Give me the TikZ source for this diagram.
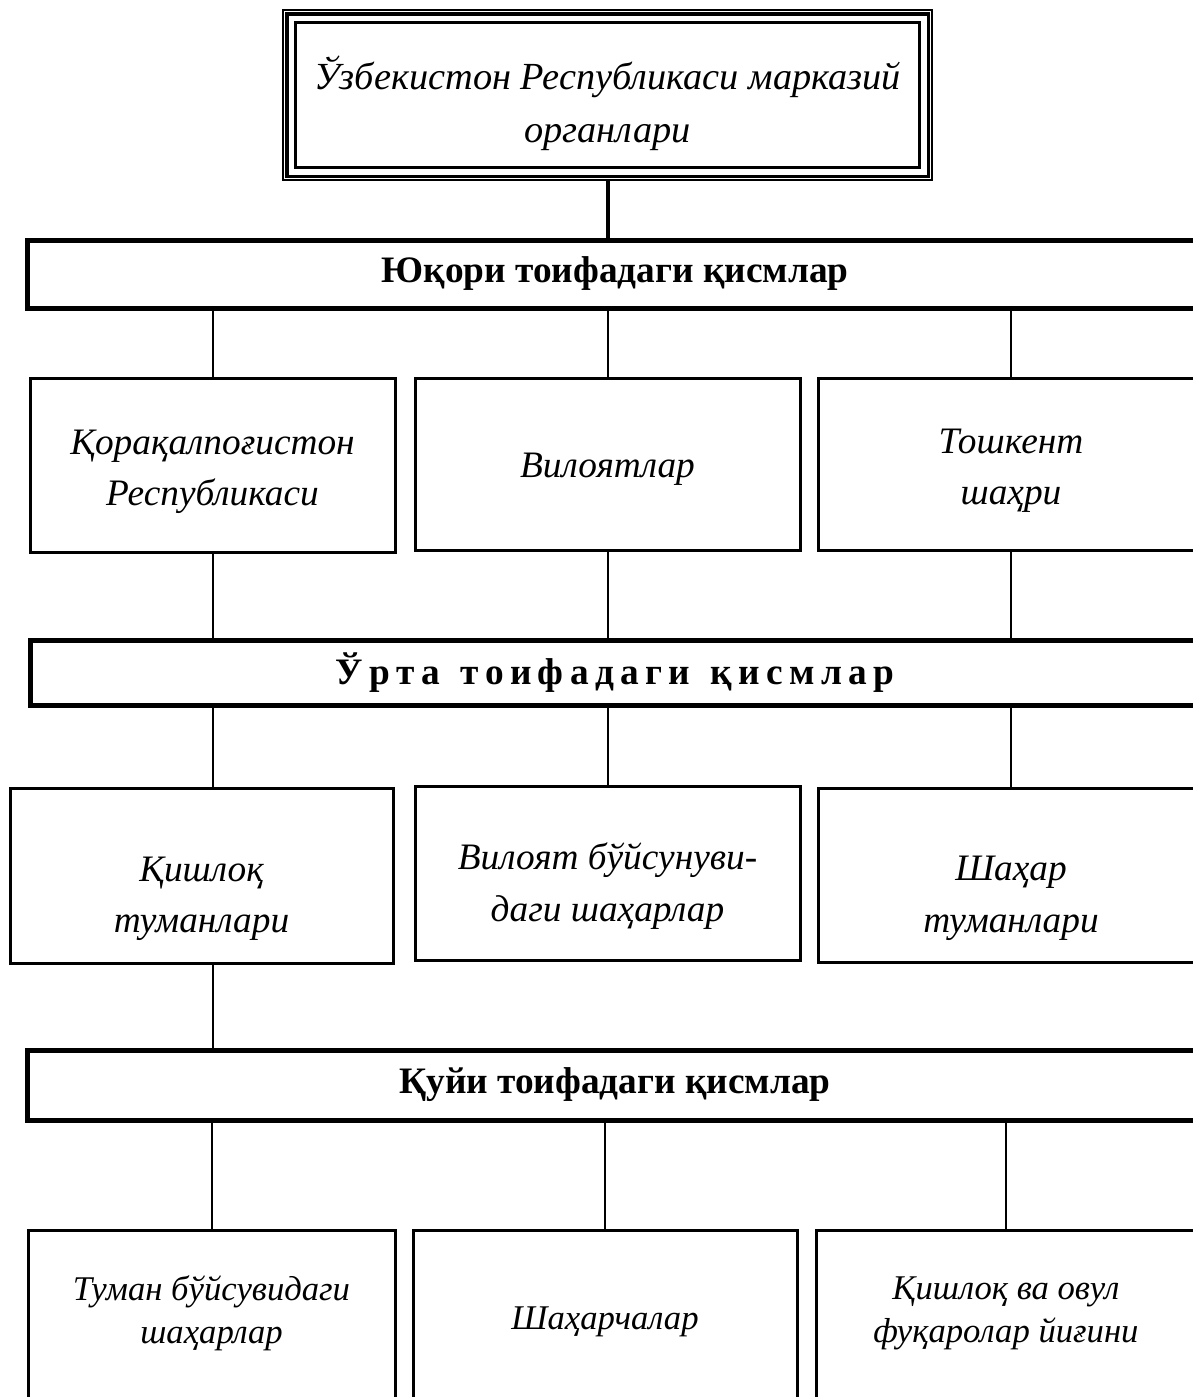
\documentclass[tikz,border=0pt]{standalone}
\usepackage{fontspec}
\setmainfont{Liberation Serif}
\usetikzlibrary{positioning,calc}
\tikzset{
  band/.style={rectangle, draw, line width=1.5pt, minimum width=352.8pt, font=\fontsize{11.2}{14}\selectfont\bfseries}, % tier band
  unit/.style={rectangle, draw, line width=0.9pt, align=center, font=\fontsize{11.2}{15}\selectfont\itshape}, % territorial unit
  txt/.style={align=center, font=\fontsize{11.2}{15.5}\selectfont\itshape},
  smalltxt/.style={align=center, font=\fontsize{10.4}{13}\selectfont\itshape},
  link/.style={draw, line width=0.6pt}
}

\begin{document}
\begin{tikzpicture}[x=0.3pt, y=-0.3pt]
    \useasboundingbox (0,0) rectangle (1192,1397);

    % Nodes
    \node [unit, line width=0.4pt, minimum width=194.7pt, minimum height=51pt, label={[txt, font=\fontsize{11.5}{16}\selectfont\itshape, yshift=-2.5pt]center:{Ўзбекистон Республикаси марказий\\органлари}}] (centre) at (607.5,95) {};
    \node [band, minimum height=20.4pt] (upper) at (615,274) {Юқори тоифадаги қисмлар};

    \node [unit, minimum width=109.5pt, minimum height=52.2pt, label={[txt, yshift=-2pt]center:{Қорақалпоғистон\\Республикаси}}] (karakalpak) at (212.5,465) {};
    \node [unit, minimum width=115.5pt, minimum height=51.6pt, label={[txt, yshift=-1.5pt]center:{Вилоятлар}}] (regions) at (607.5,464) {};
    \node [unit, minimum width=115.8pt, minimum height=51.6pt, label={[txt, yshift=-2pt]center:{Тошкент\\шаҳри}}] (tashkent) at (1011,464) {};

    \node [band, minimum width=351pt, minimum height=19.5pt] (middle) at (615,672.5) {\spaceskip=0.17em\relax Ў р т а\hspace{0.55em}т о и ф а д а г и\hspace{0.55em}қ и с м л а р};

    \node [unit, minimum width=114.9pt, minimum height=52.5pt, label={[txt, yshift=-7pt]center:{Қишлоқ\\туманлари}}] (villagedist) at (201.5,875.5) {};
    \node [unit, minimum width=115.5pt, minimum height=52.2pt, label={[txt, yshift=-4pt]center:{Вилоят бўйсунуви-\\даги шаҳарлар}}] (regcities) at (607.5,873) {};
    \node [unit, minimum width=115.8pt, minimum height=52.2pt, label={[txt, yshift=-7pt]center:{Шаҳар\\туманлари}}] (citydist) at (1011,875) {};

    \node [band, minimum height=21pt] (lower) at (615,1085) {Қуйи тоифадаги қисмлар};

    \node [unit, minimum width=110.1pt, minimum height=60pt, label={[smalltxt, yshift=5pt]center:{Туман бўйсувидаги\\шаҳарлар}}] (distcities) at (211.5,1330) {};
    \node [unit, minimum width=115.2pt, minimum height=60pt, label={[smalltxt, yshift=2.5pt]center:{Шаҳарчалар}}] (towns) at (605,1330) {};
    \node [unit, minimum width=114pt, minimum height=60pt, label={[smalltxt, yshift=5pt]center:{Қишлоқ ва овул\\фуқаролар йиғини}}] (assemblies) at (1006,1330) {};

    % Frame lines of the top box
    \draw[line width=1.1pt] ([shift={(1.3pt,-1.3pt)}]centre.north west) rectangle ([shift={(-1.3pt,1.3pt)}]centre.south east);
    \draw[line width=1pt] ([shift={(4pt,-4pt)}]centre.north west) rectangle ([shift={(-4pt,4pt)}]centre.south east);

    % Edges
    \draw[line width=1.2pt] (centre.south) -- (centre.south |- upper.north);
    \foreach \n in {karakalpak, regions, tashkent} {
      \draw[link] (\n.north |- upper.south) -- (\n.north);
      \draw[link] (\n.south) -- (\n.south |- middle.north);
      \draw[link] (\n.south |- middle.south) -- (\n.south |- villagedist.north);
    }
    \draw[link] (karakalpak.south |- villagedist.south) -- (karakalpak.south |- lower.north);
    \foreach \n in {distcities, towns, assemblies}
      \draw[link] (\n.north |- lower.south) -- (\n.north);

\end{tikzpicture}
\end{document}
